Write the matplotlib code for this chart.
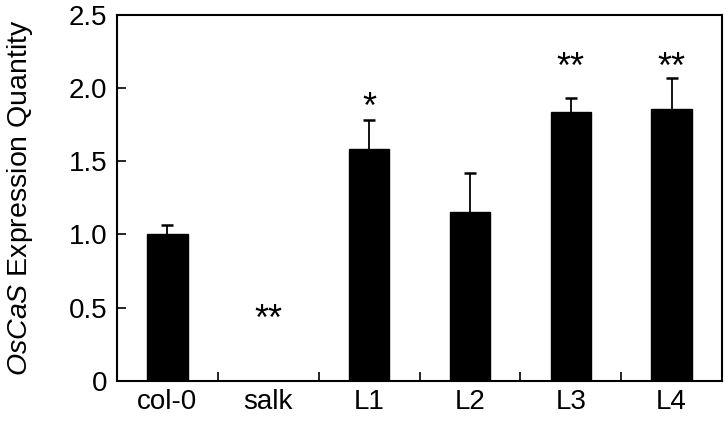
import matplotlib

matplotlib.use("Agg")
import matplotlib.pyplot as plt
from matplotlib.ticker import FixedLocator, FixedFormatter, NullFormatter

plt.rcParams["font.family"] = ["Liberation Sans", "DejaVu Sans"]
plt.rcParams["mathtext.fontset"] = "custom"
plt.rcParams["mathtext.it"] = "Liberation Sans:italic"
plt.rcParams["mathtext.rm"] = "Liberation Sans"

# values
groups = ["col-0", "salk", "L1", "L2", "L3", "L4"]
means = [1.00, 0.0, 1.585, 1.155, 1.835, 1.857]
errs = [0.065, 0.0, 0.195, 0.265, 0.10, 0.21]
stars = ["", "**", "*", "", "**", "**"]
star_y = [0.0, 0.49, 1.936, 0.0, 2.21, 2.21]   # centre of the asterisks
yticks = [0, 0.5, 1.0, 1.5, 2.0, 2.5]
ytick_labels = ["0", "0.5", "1.0", "1.5", "2.0", "2.5"]

FS = 20
STAR_FS = 26

fig = plt.figure(figsize=(7.28, 4.21), dpi=100)
ax = fig.add_axes([0.1607, 0.095, 0.8311, 0.870])

x = list(range(len(groups)))
bx = [xi for xi, m in zip(x, means) if m > 0]
bm = [m for m in means if m > 0]
be = [e for m, e in zip(means, errs) if m > 0]
tops = [m + e for m, e in zip(bm, be)]

ax.bar(bx, bm, width=0.40, color="black", edgecolor="black", zorder=2)
# upper error bars only
ax.vlines(bx, bm, tops, color="black", linewidth=1.3, zorder=3)
ax.plot(bx, tops, linestyle="none", marker="_", markersize=8,
        markeredgewidth=1.8, color="black", zorder=3)

# asterisk glyph sits about 0.57 em above the baseline
star_off = 0.57 * STAR_FS / 72 * 100 / (ax.get_position().height * 421 / 2.5)
for xi, s, sy in zip(x, stars, star_y):
    if s:
        ax.text(xi, sy - star_off, s, ha="center", va="baseline",
                fontsize=STAR_FS, color="black")

ax.set_xlim(-0.5, len(groups) - 0.5)
ax.set_ylim(0, 2.5)

# major ticks sit between groups, labels at group centres
ax.xaxis.set_major_locator(FixedLocator([i + 0.5 for i in x[:-1]]))
ax.xaxis.set_major_formatter(NullFormatter())
ax.xaxis.set_minor_locator(FixedLocator(x))
ax.xaxis.set_minor_formatter(FixedFormatter(groups))
ax.tick_params(axis="x", which="major", direction="in", length=6.5,
               width=1.2, color="black")
ax.tick_params(axis="x", which="minor", length=0, labelsize=FS, pad=6)

ax.yaxis.set_major_locator(FixedLocator(yticks))
ax.yaxis.set_major_formatter(FixedFormatter(ytick_labels))
ax.tick_params(axis="y", direction="in", length=6.5, width=1.2,
               labelsize=FS, pad=7, color="black")

for side in ("top", "right", "left", "bottom"):
    ax.spines[side].set_linewidth(1.5)
    ax.spines[side].set_color("black")

ax.set_ylabel(r"$\it{OsCaS}$ Expression Quantity", fontsize=20.5)
ax.yaxis.set_label_coords(-0.135, 0.5)

fig.savefig("out.png", dpi=100, facecolor="white")
plt.close(fig)
